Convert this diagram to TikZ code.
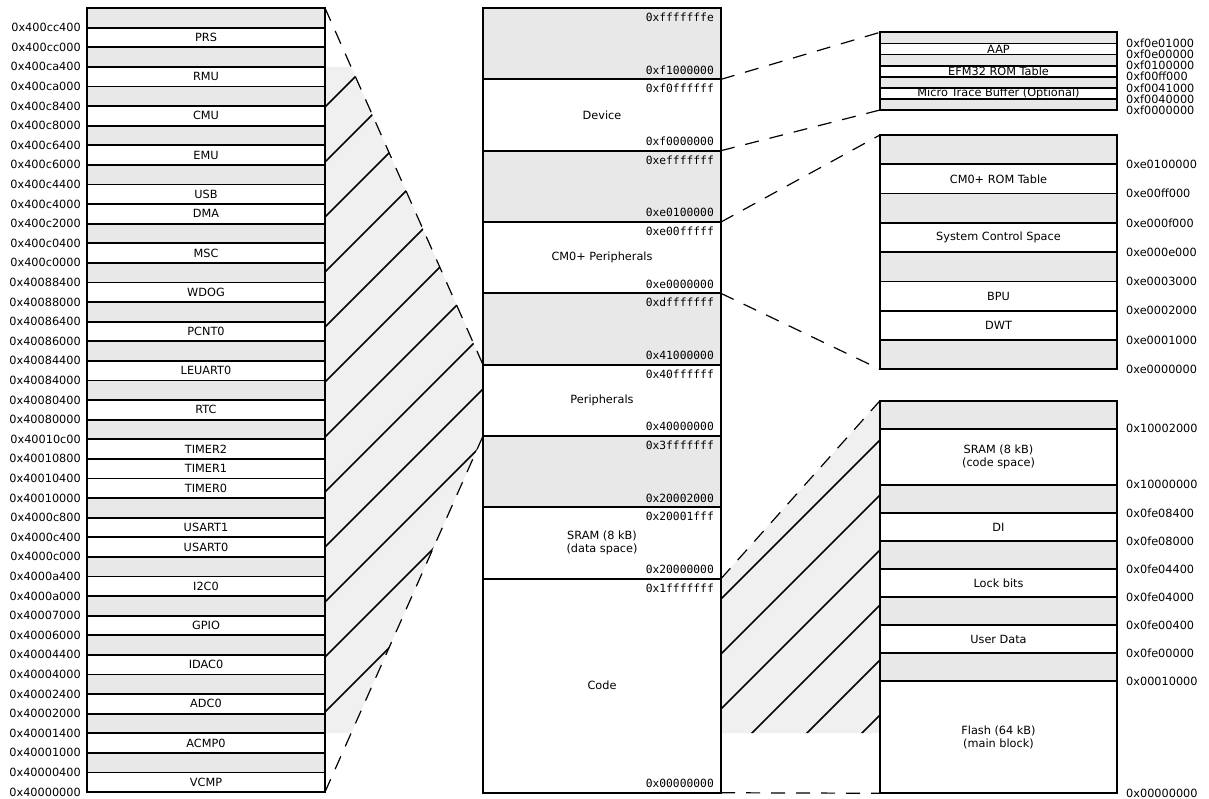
\documentclass[tikz,border=0pt]{standalone}
\usepackage{fontspec}
\newfontfamily\dvs{DejaVu Sans}
\newfontfamily\dvm{DejaVu Sans Mono}
\usetikzlibrary{calc}
\pgfdeclarelayer{background}
\pgfsetlayers{background,main}
\definecolor{rowgray}{gray}{0.91}
\definecolor{hatchgray}{gray}{0.94}
\begin{document}
\begin{tikzpicture}[x=1pt,y=-1pt,
  mrow/.style={draw=black,line width=1.8pt,inner sep=0pt,outer sep=0pt,minimum width=238pt,
    font=\dvs\fontsize{11.3}{13}\selectfont,align=center,anchor=north west},
  addr/.style={inner sep=0pt,font=\dvs\fontsize{11.3}{13}\selectfont},
  maddr/.style={inner sep=0pt,font=\dvm\fontsize{11.3}{13}\selectfont},
  link/.style={line width=1.2pt,dash pattern=on 14pt off 11pt},
  hatch/.style={line width=1.6pt},
  border/.style={line width=1.8pt}]
\useasboundingbox (0,0) rectangle (1209,798);

% ---------- left column ----------
\foreach \c/\t [count=\i] in {rowgray/{},white/PRS,rowgray/{},white/RMU,rowgray/{},white/CMU,rowgray/{},white/EMU,
  rowgray/{},white/USB,white/DMA,rowgray/{},white/MSC,rowgray/{},white/WDOG,rowgray/{},white/PCNT0,rowgray/{},
  white/LEUART0,rowgray/{},white/RTC,rowgray/{},white/TIMER2,white/TIMER1,white/TIMER0,rowgray/{},white/USART1,
  white/USART0,rowgray/{},white/I2C0,rowgray/{},white/GPIO,rowgray/{},white/IDAC0,rowgray/{},white/ADC0,
  rowgray/{},white/ACMP0,rowgray/{},white/VCMP}
  \node[mrow,fill=\c,minimum height=19.6pt] (L\i) at (87,{8+19.6*(\i-1)}) {\t};

\foreach \a [count=\i] in {0x400cc400,0x400cc000,0x400ca400,0x400ca000,0x400c8400,0x400c8000,0x400c6400,0x400c6000,
  0x400c4400,0x400c4000,0x400c2000,0x400c0400,0x400c0000,0x40088400,0x40088000,0x40086400,0x40086000,0x40084400,
  0x40084000,0x40080400,0x40080000,0x40010c00,0x40010800,0x40010400,0x40010000,0x4000c800,0x4000c400,0x4000c000,
  0x4000a400,0x4000a000,0x40007000,0x40006000,0x40004400,0x40004000,0x40002400,0x40002000,0x40001400,0x40001000,
  0x40000400,0x40000000}
  \node[addr,anchor=east] (LA\i) at (81,{8+19.6*\i}) {\a};

% ---------- centre column ----------
\node[mrow,fill=rowgray,minimum height=71.34pt] (C1) at (483,8) {};
\node[mrow,fill=white,minimum height=71.34pt] (C2) at (483,79.34) {Device};
\node[mrow,fill=rowgray,minimum height=71.34pt] (C3) at (483,150.68) {};
\node[mrow,fill=white,minimum height=71.34pt] (C4) at (483,222.02) {CM0+ Peripherals};
\node[mrow,fill=rowgray,minimum height=71.34pt] (C5) at (483,293.36) {};
\node[mrow,fill=white,minimum height=71.34pt] (C6) at (483,364.7) {Peripherals};
\node[mrow,fill=rowgray,minimum height=71.34pt] (C7) at (483,436.04) {};
\node[mrow,fill=white,minimum height=71.34pt] (C8) at (483,507.38) {SRAM (8 kB)\\(data space)};
\node[mrow,fill=white,minimum height=214.02pt] (C9) at (483,578.72) {Code};

\foreach \i/\top/\bot in {1/0xfffffffe/0xf1000000,2/0xf0ffffff/0xf0000000,3/0xefffffff/0xe0100000,
  4/0xe00fffff/0xe0000000,5/0xdfffffff/0x41000000,6/0x40ffffff/0x40000000,7/0x3fffffff/0x20002000,
  8/0x20001fff/0x20000000,9/0x1fffffff/0x00000000}{
  \node[maddr,anchor=east] (CT\i) at ($(C\i.north east)+(-7,9.2)$) {\top};
  \node[maddr,anchor=east] (CB\i) at ($(C\i.south east)+(-7,-9.2)$) {\bot};
}

% ---------- right box 1 ----------
\foreach \c/\t [count=\i] in {rowgray/{},white/AAP,rowgray/{},white/EFM32 ROM Table,rowgray/{},
  white/Micro Trace Buffer (Optional),rowgray/{}}
  \node[mrow,fill=\c,minimum width=237pt,minimum height=11.1pt] (R1-\i) at (880,{32.3+11.1*(\i-1)}) {\t};
\foreach \i in {1,...,7}
  \draw[border] (R1-\i.north west) rectangle (R1-\i.south east);
\foreach \a [count=\i] in {0xf0e01000,0xf0e00000,0xf0100000,0xf00ff000,0xf0041000,0xf0040000,0xf0000000}
  \node[addr,anchor=west] (R1A\i) at (1126,{32.3+11.1*\i}) {\a};

% ---------- right box 2 ----------
\foreach \c/\t [count=\i] in {rowgray/{},white/CM0+ ROM Table,rowgray/{},white/System Control Space,rowgray/{},
  white/BPU,white/DWT,rowgray/{}}
  \node[mrow,fill=\c,minimum width=237pt,minimum height=29.29pt] (R2-\i) at (880,{135+29.29*(\i-1)}) {\t};
\foreach \a [count=\i] in {0xe0100000,0xe00ff000,0xe000f000,0xe000e000,0xe0003000,0xe0002000,0xe0001000,0xe0000000}
  \node[addr,anchor=west] (R2A\i) at (1126,{135+29.29*\i}) {\a};

% ---------- right box 3 ----------
\node[mrow,fill=rowgray,minimum width=237pt,minimum height=28.04pt] (R3-1) at (880,400.7) {};
\node[mrow,fill=white,minimum width=237pt,minimum height=56.08pt] (R3-2) at (880,428.74) {SRAM (8 kB)\\(code space)};
\node[mrow,fill=rowgray,minimum width=237pt,minimum height=28.04pt] (R3-3) at (880,484.82) {};
\node[mrow,fill=white,minimum width=237pt,minimum height=28.04pt] (R3-4) at (880,512.86) {DI};
\node[mrow,fill=rowgray,minimum width=237pt,minimum height=28.04pt] (R3-5) at (880,540.9) {};
\node[mrow,fill=white,minimum width=237pt,minimum height=28.04pt] (R3-6) at (880,568.94) {Lock bits};
\node[mrow,fill=rowgray,minimum width=237pt,minimum height=28.04pt] (R3-7) at (880,596.98) {};
\node[mrow,fill=white,minimum width=237pt,minimum height=28.04pt] (R3-8) at (880,625.02) {User Data};
\node[mrow,fill=rowgray,minimum width=237pt,minimum height=28.04pt] (R3-9) at (880,653.06) {};
\node[mrow,fill=white,minimum width=237pt,minimum height=112.16pt] (R3-10) at (880,681.1) {Flash (64 kB)\\(main block)};
\foreach \a/\n in {0x10002000/1,0x10000000/2,0x0fe08400/3,0x0fe08000/4,0x0fe04400/5,0x0fe04000/6,
  0x0fe00400/7,0x0fe00000/8,0x00010000/9,0x00000000/10}
  \node[addr,anchor=west] (R3A\n) at ($(R3-\n.south east)+(9,0)$) {\a};

% ---------- shaded, hatched expansions ----------
\begin{pgfonlayer}{background}
  \coordinate (ltop) at (intersection of L1.north east--C6.north west and L4.north west--L4.north east);
  \coordinate (lbot) at (intersection of L40.south east--C7.north west and L38.north west--L38.north east);
  \fill[hatchgray] (L4.north east) -- (ltop) -- (C6.north west) -- (C7.north west) -- (lbot) -- (L38.north east) -- cycle;
  \begin{scope}
    \clip (L4.north east) -- (ltop) -- (C6.north west) -- (C7.north west) -- (lbot) -- (L38.north east) -- cycle;
    \foreach \k in {0,...,11}
      \draw[hatch] (300,{132+55*\k}) -- (520,{-88+55*\k});
  \end{scope}
  \coordinate (rbl) at (C9.north east |- L38.north);
  \coordinate (rbr) at (R3-1.north west |- L38.north);
  \fill[hatchgray] (C9.north east) -- (R3-1.north west) -- (rbr) -- (rbl) -- cycle;
  \begin{scope}
    \clip (C9.north east) -- (R3-1.north west) -- (rbr) -- (rbl) -- cycle;
    \foreach \k in {0,...,5}
      \draw[hatch] (700,{620+55*\k}) -- (900,{420+55*\k});
  \end{scope}
\end{pgfonlayer}

% ---------- dashed connectors ----------
\draw[link] (L1.north east) -- (C6.north west);
\draw[link] (L40.south east) -- (C7.north west);
\draw[link] (C2.north east) -- (R1-1.north west);
\draw[link] (C2.south east) -- (R1-7.south west);
\draw[link] (C4.north east) -- (R2-1.north west);
\draw[link] (C4.south east) -- (R2-8.south west);
\draw[link] (C9.north east) -- (R3-1.north west);
\draw[link] (C9.south east) -- (R3-10.south west);
\end{tikzpicture}
\end{document}
